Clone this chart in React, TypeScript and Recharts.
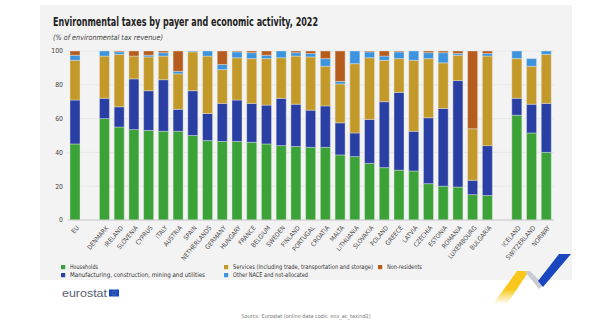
import React from "react";
import { BarChart, Bar, XAxis, YAxis, CartesianGrid } from "recharts";

// categories ("" entries are the blank slots between groups)
const countries = [
  "EU", " ", "DENMARK", "IRELAND", "SLOVENIA", "CYPRUS", "ITALY", "AUSTRIA", "SPAIN",
  "NETHERLANDS", "GERMANY", "HUNGARY", "FRANCE", "BELGIUM", "SWEDEN", "FINLAND",
  "PORTUGAL", "CROATIA", "MALTA", "LITHUANIA", "SLOVAKIA", "POLAND", "GREECE", "LATVIA",
  "CZECHIA", "ESTONIA", "ROMANIA", "LUXEMBOURG", "BULGARIA", "  ", "ICELAND",
  "SWITZERLAND", "NORWAY",
];

const households = [
  45, null, 60, 55, 53.5, 53, 52.5, 52.5, 50, 47, 46.5, 46.5, 46, 45, 44, 43.5, 43, 43,
  38.5, 37.5, 33.5, 31, 29.5, 29, 21.5, 20, 19.5, 15, 14.5, null, 62, 51.5, 40,
];
const manufacturing = [
  26, null, 12, 12, 30, 23.5, 30.5, 13, 26.5, 16, 22.5, 24.5, 23, 23, 28, 25, 22, 24.5,
  19, 14, 26, 39, 46, 23.5, 39, 46, 63, 8.5, 29.5, null, 10, 17, 29,
];
const services = [
  23.5, null, 25, 31, 13.5, 20, 14, 21, 23, 34, 20, 25, 26.5, 27.5, 24, 28.5, 31.5, 23.5,
  23, 41, 36.5, 24.5, 20, 42, 35, 27, 15, 30.5, 53, null, 23.5, 22.5, 29,
];
const otherNace = [
  3, null, 3, 1.5, 0, 1, 2, 1.5, 0.5, 3, 3, 3.5, 3.5, 2, 4, 2, 2, 4.5, 1.5, 7.5, 3.5,
  2.5, 4, 5.5, 3.5, 6, 1, 0, 1.5, null, 4.5, 4.5, 2,
];
const nonResidents = [
  2.5, null, 0, 0.5, 3, 2.5, 1, 12, 0, 0, 8, 0.5, 1, 2.5, 0, 1, 1.5, 4.5, 18, 0, 0.5, 3,
  0.5, 0, 1, 1, 1.5, 46, 1.5, null, 0, 0, 0,
];

const yTicks = [0, 20, 40, 60, 80, 100];

const COLORS = {
  households: "#3aa236",
  manufacturing: "#2a3fa3",
  services: "#c39a2a",
  other: "#3c94de",
  nonResidents: "#b65c1c",
};

const data = countries.map((name, i) => ({
  name,
  households: households[i],
  manufacturing: manufacturing[i],
  services: services[i],
  other: otherNace[i],
  nonResidents: nonResidents[i],
}));

const NARROW = "'Liberation Sans Narrow', 'DejaVu Sans Condensed', 'Liberation Sans', Arial, sans-serif";

const CountryTick = (props: any) => {
  const { x, y, payload } = props;
  if (!payload.value.trim()) return null;
  const tx = x + 4;
  const ty = y + 6;
  return (
    <text
      x={tx}
      y={ty}
      transform={`rotate(-50 ${tx} ${ty})`}
      textAnchor="end"
      fontSize={6.4}
      fill="#4a4a4a"
      fontFamily={NARROW}
    >
      {payload.value}
    </text>
  );
};

const legendItems = [
  { label: "Households", color: COLORS.households, x: 61, y: 265, w: 28 },
  { label: "Manufacturing, construction, mining and utilities", color: COLORS.manufacturing, x: 61, y: 273, w: 135 },
  { label: "Services (Including trade, transportation and storage)", color: COLORS.services, x: 224, y: 265, w: 140 },
  { label: "Other NACE and not-allocated", color: COLORS.other, x: 224, y: 273, w: 75 },
  { label: "Non-residents", color: COLORS.nonResidents, x: 378, y: 265, w: 35 },
];

export default function App() {
  return (
    <div style={{ position: "absolute", left: 0, top: 0, width: 600, height: 321, overflow: "hidden", background: "#fff" }}>
      {/* grey panel */}
      <div style={{ position: "absolute", left: 40, top: 5, width: 532, height: 275, background: "#f3f3f3" }} />

      <BarChart
        width={600}
        height={321}
        data={data}
        margin={{ top: 51, right: 46, left: 48, bottom: 71 }}
        barSize={10}
        style={{ position: "absolute", left: 0, top: 0, fontFamily: NARROW }}
      >
        <CartesianGrid vertical={false} stroke="#e3e3e3" strokeWidth={0.8} />
        <XAxis
          dataKey="name"
          interval={0}
          height={30}
          tickLine={false}
          tickSize={0}
          tick={<CountryTick />}
          axisLine={{ stroke: "#c4c4c4", strokeWidth: 0.8 }}
        />
        <YAxis
          width={20}
          domain={[0, 100]}
          ticks={yTicks}
          axisLine={false}
          tickLine={false}
          tickSize={0}
          tickMargin={5}
          tick={{ fontSize: 6.8, fill: "#444", fontFamily: NARROW }}
        />
        <Bar dataKey="households" stackId="a" fill={COLORS.households} stroke="#eaeaea" strokeWidth={0.4} isAnimationActive={false} />
        <Bar dataKey="manufacturing" stackId="a" fill={COLORS.manufacturing} stroke="#eaeaea" strokeWidth={0.4} isAnimationActive={false} />
        <Bar dataKey="services" stackId="a" fill={COLORS.services} stroke="#eaeaea" strokeWidth={0.4} isAnimationActive={false} />
        <Bar dataKey="other" stackId="a" fill={COLORS.other} stroke="#eaeaea" strokeWidth={0.4} isAnimationActive={false} />
        <Bar dataKey="nonResidents" stackId="a" fill={COLORS.nonResidents} stroke="#eaeaea" strokeWidth={0.4} isAnimationActive={false} />
      </BarChart>

      <svg width={600} height={321} style={{ position: "absolute", left: 0, top: 0, pointerEvents: "none" }}>
        <defs>
          <linearGradient id="yellowFade" x1="0" y1="0" x2="0" y2="1">
            <stop offset="0" stopColor="#f7c81b" />
            <stop offset="0.55" stopColor="#f7c81b" />
            <stop offset="1" stopColor="#f7c81b" stopOpacity={0} />
          </linearGradient>
        </defs>
        <text x={53} y={26} fontSize={12.5} fontWeight="bold" fill="#222" fontFamily={NARROW} textLength={265} lengthAdjust="spacingAndGlyphs">
          Environmental taxes by payer and economic activity, 2022
        </text>
        <text x={53} y={40} fontSize={7.5} fontStyle="italic" fill="#444" fontFamily={NARROW} textLength={110} lengthAdjust="spacingAndGlyphs">
          (% of environmental tax revenue)
        </text>

        {legendItems.map((it) => (
          <g key={it.label}>
            <rect x={it.x} y={it.y} width={4.2} height={4.2} fill={it.color} />
            <text x={it.x + 9} y={it.y + 4.2} fontSize={6.4} fill="#333" fontFamily={NARROW} textLength={it.w} lengthAdjust="spacingAndGlyphs">
              {it.label}
            </text>
          </g>
        ))}

        {/* eurostat logo */}
        <text x={62} y={297} fontSize={10.5} fill="#56606e" fontFamily="'Liberation Sans', Arial, sans-serif" textLength={45} lengthAdjust="spacingAndGlyphs">
          eurostat
        </text>
        <rect x={109} y={289.5} width={10} height={7} fill="#1246c4" />
        <circle cx={114} cy={293} r={2} fill="none" stroke="#ffd617" strokeWidth={0.6} strokeDasharray="0.5 0.55" />

        {/* corner ribbon */}
        <polygon points="517,271 529,271 507,304 493,304" fill="url(#yellowFade)" />
        <polygon points="525,271.5 530,271 544,285 539,289" fill="#c9cdd3" />
        <polygon points="538,281 543,287 571,254 559,254" fill="#1a47c0" />

        <text x={306} y={318} fontSize={5.5} textAnchor="middle" fill="#777" fontFamily={NARROW}>
          Source: Eurostat (online data code: env_ac_taxind2)
        </text>
      </svg>
    </div>
  );
}
